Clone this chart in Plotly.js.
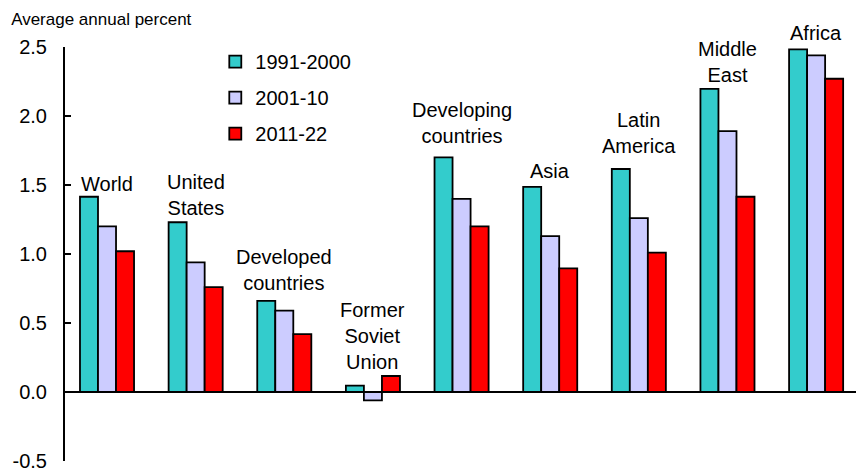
<!DOCTYPE html>
<html>
<head>
<meta charset="utf-8">
<script src="https://cdn.plot.ly/plotly-3.0.1.min.js"></script>
<style>html,body{margin:0;padding:0;background:#fff;}#chart{width:856px;height:474px;}</style>
</head>
<body>
<div id="chart"></div>
<script>
const categories = ["World", "United<br>States", "Developed<br>countries", "Former<br>Soviet<br>Union", "Developing<br>countries", "Asia", "Latin<br>America", "Middle<br>East", "Africa"];
const seriesNames = ["1991-2000", "2001-10", "2011-22"];
const s1991 = [1.415, 1.23, 0.66, 0.046, 1.70, 1.486, 1.616, 2.196, 2.483];
const s2001 = [1.20, 0.94, 0.59, -0.06, 1.40, 1.13, 1.26, 1.89, 2.44];
const s2011 = [1.02, 0.76, 0.42, 0.116, 1.20, 0.896, 1.01, 1.415, 2.27];
const tickVals = [-0.5, 0, 0.5, 1, 1.5, 2, 2.5];
const tickText = ["-0.5", "0.0", "0.5", "1.0", "1.5", "2.0", "2.5"];

const colors = ["#33CCCC", "#CCCCFF", "#FF0000"];
const labelShift = [0, 1, 5, 1, 8, 3, 10, 1, 3];
const font = "Liberation Sans, Arial, sans-serif";

const seriesVals = [s1991, s2001, s2011];
const traces = seriesVals.map((vals, i) => ({
  type: "bar",
  name: seriesNames[i],
  x: categories,
  y: vals,
  legendgroup: "g" + i,
  marker: {color: colors[i], line: {color: "#000", width: 1.8}},
  hoverinfo: "x+y+name"
}));

const annotations = categories.map((c, i) => ({
  x: c, xref: "x",
  y: Math.max(s1991[i], s2001[i], s2011[i]), yref: "y",
  text: c, showarrow: false,
  xanchor: "center", yanchor: "bottom",
  yshift: labelShift[i],
  font: {family: font, size: 20, color: "#000"}
}));

const layout = {
  width: 856, height: 474,
  margin: {l: 65, r: 0, t: 47, b: 13},
  paper_bgcolor: "#fff", plot_bgcolor: "#fff",
  font: {family: font, size: 20, color: "#000"},
  title: {text: "Average annual percent", x: 0.013, xanchor: "left", xref: "container",
          y: 0.96, yanchor: "middle", yref: "container",
          font: {family: font, size: 17, color: "#000"}},
  barmode: "group", bargap: 0.39, bargroupgap: 0,
  showlegend: true,
  legend: {x: 0.19, y: 1.012, xanchor: "left", yanchor: "top", traceorder: "grouped",
           tracegroupgap: 7, font: {family: font, size: 20, color: "#000"},
           bgcolor: "rgba(0,0,0,0)"},
  xaxis: {type: "category", range: [-0.474, 8.45], showline: false, ticks: "",
          showticklabels: false, showgrid: false, zeroline: false, fixedrange: true},
  yaxis: {range: [-0.5, 2.5], tickvals: tickVals, ticktext: tickText,
          ticks: "inside", ticklen: 6, tickwidth: 2, tickcolor: "#000",
          showline: true, linecolor: "#000", linewidth: 2, showgrid: false,
          zeroline: true, zerolinecolor: "#000", zerolinewidth: 1.5,
          ticklabelstandoff: 12,
          tickfont: {family: font, size: 20, color: "#000"}, fixedrange: true},
  annotations: annotations
};

Plotly.newPlot("chart", traces, layout, {displayModeBar: false, staticPlot: true});
</script>
</body>
</html>
